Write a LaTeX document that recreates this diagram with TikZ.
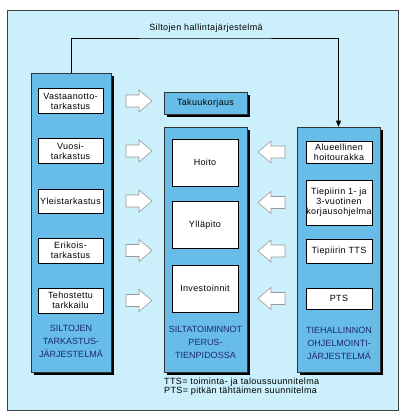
\documentclass[tikz,border=0pt]{standalone}
\usepackage{fontspec}
\setmainfont{Liberation Sans}
\newfontfamily\widesans{Liberation Sans}[LetterSpace=4]
\usetikzlibrary{positioning,arrows.meta,shadows}
\definecolor{bgblue}{HTML}{CBEFFB}
\definecolor{colblue}{HTML}{68BCE8}
\definecolor{navy}{HTML}{1C2B6C}
\tikzset{
  column/.style={draw=black!80, fill=colblue, line width=0.6pt,
    drop shadow={shadow xshift=3pt, shadow yshift=-3pt, fill=black, opacity=1}},
  item/.style={draw=black, fill=white, line width=0.5pt, align=center, inner sep=0pt,
    font=\widesans\fontsize{9}{10}\selectfont},
  caption/.style={align=center, text=navy, font=\fontsize{9}{13}\selectfont},
  blockarrow/.style={draw=black!40, fill=white, line width=0.6pt},
}
\begin{document}
\begin{tikzpicture}[x=1pt,y=-1pt]
\useasboundingbox (0,0) rectangle (408,416);
\draw[fill=bgblue, draw=black!75, line width=0.8pt] (7,10) rectangle (398,410);

% the three systems
\node[column, minimum width=80pt, minimum height=299pt] (tarkastus) at (71,222.5) {};
\node[column, minimum width=83pt, minimum height=245pt] (tienpito) at (205.5,249.5) {};
\node[column, minimum width=83pt, minimum height=245pt] (ohjelmointi) at (338.5,249.5) {};
\node[column, minimum width=83pt, minimum height=22pt, font=\widesans\fontsize{9}{10}\selectfont] (takuu) at (205.5,103) {Takuukorjaus};

\node[font=\widesans\fontsize{9}{12}\selectfont] (hallinta) at (206,28) {Siltojen hallintajärjestelmä};
\coordinate (ylin) at (206,38);
\draw[line width=0.6pt, -{Triangle[length=6pt,width=5pt]}] (tarkastus.north) |- (ylin) -| (ohjelmointi.north);

% tarkastukset
\node[item, minimum width=65pt, minimum height=25pt] (vastaanotto) at (70.5,101) {Vastaanotto-\\tarkastus};
\node[item, minimum width=65pt, minimum height=25pt] (vuosi) at (70.5,151) {Vuosi-\\tarkastus};
\node[item, minimum width=65pt, minimum height=24pt] (yleis) at (70.5,201) {Yleistarkastus};
\node[item, minimum width=65pt, minimum height=25pt] (erikois) at (70.5,250.5) {Erikois-\\tarkastus};
\node[item, minimum width=65pt, minimum height=25pt] (tehostettu) at (70.5,300.5) {Tehostettu\\tarkkailu};
\node[caption] (tarkastusnimi) at (71,341) {SILTOJEN\\TARKASTUS-\\JÄRJESTELMÄ};

% tienpito
\node[item, minimum width=66pt, minimum height=47pt] (hoito) at (205,162.5) {Hoito};
\node[item, minimum width=66pt, minimum height=47pt] (yllapito) at (205,225) {Ylläpito};
\node[item, minimum width=66pt, minimum height=47pt] (investoinnit) at (205,288.5) {Investoinnit};
\node[caption] (tienpitonimi) at (205.5,342) {SILTATOIMINNOT\\PERUS-\\TIENPIDOSSA};

% ohjelmointi
\node[item, minimum width=66pt, minimum height=22pt] (alueellinen) at (339,152) {Alueellinen\\hoitourakka};
\node[item, minimum width=66pt, minimum height=45pt] (korjaus) at (339,202.5) {Tiepiirin 1- ja\\3-vuotinen\\korjausohjelma};
\node[item, minimum width=66pt, minimum height=24pt] (tts) at (339,251) {Tiepiirin TTS};
\node[item, minimum width=66pt, minimum height=21pt] (pts) at (339,298.5) {PTS};
\node[caption] (ohjelmointinimi) at (339,343) {TIEHALLINNON\\OHJELMOINTI-\\JÄRJESTELMÄ};

% block arrows
\foreach \y in {101,151,201,250.5,300.5}
  \draw[blockarrow] (126,\y-6) -- (139,\y-6) -- (139,\y-11) -- (152,\y) -- (139,\y+11) -- (139,\y+6) -- (126,\y+6) -- cycle;
\foreach \y in {152,202.5,251,298.5}
  \draw[blockarrow] (285,\y-6) -- (271,\y-6) -- (271,\y-11) -- (258,\y) -- (271,\y+11) -- (271,\y+6) -- (285,\y+6) -- cycle;

\node[anchor=north west, align=left, inner sep=0pt, font=\widesans\fontsize{9}{9}\selectfont] (lyhenteet) at (164,378) {TTS= toiminta- ja taloussuunnitelma\\PTS= pitkän tähtäimen suunnitelma};
\end{tikzpicture}
\end{document}
